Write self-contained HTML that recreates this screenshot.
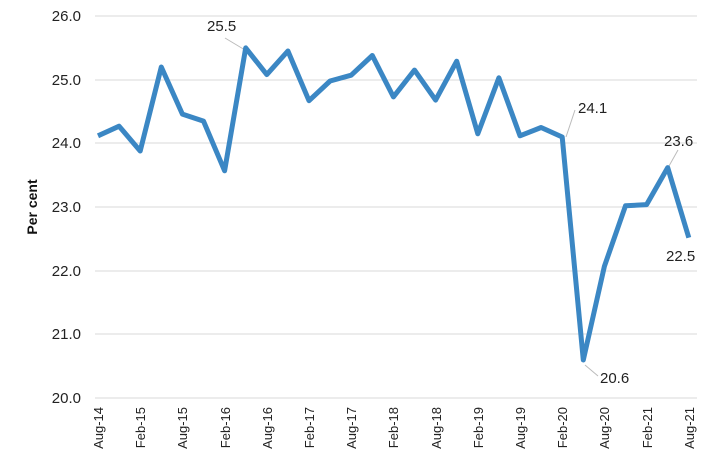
<!DOCTYPE html><html><head><meta charset="utf-8"><style>body{margin:0;background:#fff}</style></head><body>
<svg width="711" height="465" xmlns="http://www.w3.org/2000/svg" font-family="Liberation Sans, sans-serif">
<g stroke="#d9d9d9" stroke-width="1">
<line x1="95" x2="697" y1="16" y2="16"/><line x1="95" x2="697" y1="80" y2="80"/><line x1="95" x2="697" y1="143" y2="143"/><line x1="95" x2="697" y1="207" y2="207"/><line x1="95" x2="697" y1="271" y2="271"/><line x1="95" x2="697" y1="334" y2="334"/><line x1="95" x2="697" y1="398" y2="398"/>
</g>
<g font-size="15" fill="#222" text-anchor="end">
<text x="81" y="21">26.0</text><text x="81" y="85">25.0</text><text x="81" y="148">24.0</text><text x="81" y="212">23.0</text><text x="81" y="276">22.0</text><text x="81" y="339">21.0</text><text x="81" y="403">20.0</text>
</g>
<text transform="translate(37,207) rotate(-90)" font-size="14" font-weight="bold" text-anchor="middle" fill="#111">Per cent</text>
<g font-size="13" fill="#222" text-anchor="end">
<text transform="translate(103,407) rotate(-90)">Aug-14</text>
<text transform="translate(145,407) rotate(-90)">Feb-15</text>
<text transform="translate(187,407) rotate(-90)">Aug-15</text>
<text transform="translate(230,407) rotate(-90)">Feb-16</text>
<text transform="translate(272,407) rotate(-90)">Aug-16</text>
<text transform="translate(314,407) rotate(-90)">Feb-17</text>
<text transform="translate(356,407) rotate(-90)">Aug-17</text>
<text transform="translate(398,407) rotate(-90)">Feb-18</text>
<text transform="translate(441,407) rotate(-90)">Aug-18</text>
<text transform="translate(483,407) rotate(-90)">Feb-19</text>
<text transform="translate(525,407) rotate(-90)">Aug-19</text>
<text transform="translate(567,407) rotate(-90)">Feb-20</text>
<text transform="translate(609,407) rotate(-90)">Aug-20</text>
<text transform="translate(652,407) rotate(-90)">Feb-21</text>
<text transform="translate(694,407) rotate(-90)">Aug-21</text>
</g>
<g stroke="#bbb" stroke-width="1"><line x1="225" y1="38" x2="245" y2="50"/><line x1="566" y1="137" x2="575" y2="110"/><line x1="669" y1="166" x2="678" y2="150"/><line x1="585" y1="365" x2="598" y2="376"/></g>
<polyline id="pl" fill="none" stroke="#3b87c4" stroke-width="5" stroke-linejoin="round"/>
<g font-size="15" fill="#222"><text x="207" y="31">25.5</text><text x="578" y="113">24.1</text><text x="664" y="146">23.6</text><text x="666" y="261">22.5</text><text x="600" y="383">20.6</text></g>
<script>
var v=[24.12,24.27,23.88,25.2,24.46,24.35,23.57,25.5,25.08,25.45,24.67,24.98,25.07,25.38,24.73,25.15,24.68,25.29,24.15,25.03,24.12,24.25,24.1,20.6,22.07,23.02,23.04,23.62,22.52];
var p=v.map(function(a,i){return (98+i*21.1).toFixed(1)+','+(16+(26-a)*63.7).toFixed(1)}).join(' ');
document.getElementById('pl').setAttribute('points',p);
</script>
</svg></body></html>
